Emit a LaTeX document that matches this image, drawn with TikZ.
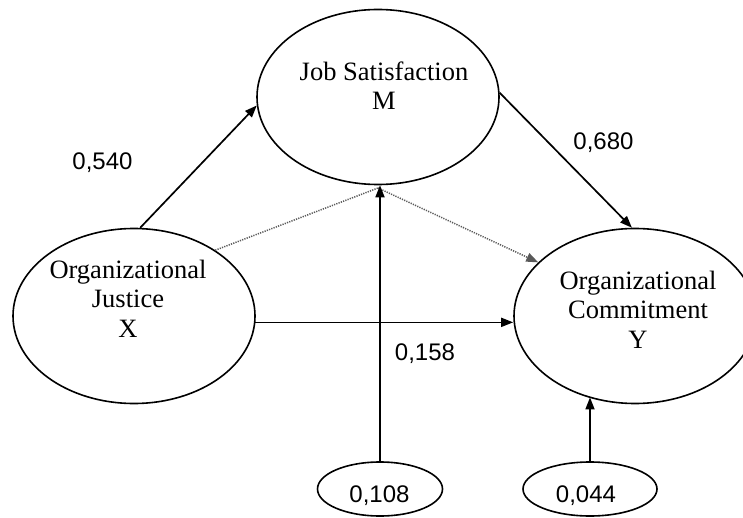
\documentclass[tikz,border=0pt]{standalone}
\usepackage{fontspec}
\setmainfont{Liberation Serif}
\newfontfamily\numfont{Liberation Sans}
\usetikzlibrary{shapes.geometric,arrows.meta}
\begin{document}
\begin{tikzpicture}[x=1pt,y=-1pt,
 big/.style={draw, ellipse, line width=1.6pt, minimum width=242pt, minimum height=175pt, inner sep=0pt},
 small/.style={draw, ellipse, line width=1.6pt, inner sep=0pt},
 lbl/.style={font=\fontsize{26.5}{29.5}\selectfont, align=center, anchor=base, inner sep=0pt},
 num/.style={font=\numfont\fontsize{24}{28}\selectfont, anchor=base, inner sep=0pt},
 tip/.style={-{Triangle[length=12pt,width=9pt]}},
 conn/.style={line width=1.7pt, tip},
 dotline/.style={line width=1.5pt, dash pattern=on 1.2pt off 1.2pt, black!65}
]
\useasboundingbox[fill=white] (0,0) rectangle (743,518);
\node[big] (M) at (378,97) {};
\node[big] (X) at (134,316) {};
\node[big] (Y) at (635,316) {};
\node[small, minimum width=125pt, minimum height=54pt] (E1) at (380,489) {};
\node[small, minimum width=134pt, minimum height=54pt] (E2) at (590,489) {};

\node[lbl] (tM) at (384,110) {Job Satisfaction\\M};
\node[lbl] (tX) at (128,337) {Organizational\\Justice\\X};
\node[lbl] (tY) at (638,348) {Organizational\\Commitment\\Y};

\node[num] (n540) at (102.5,170) {0,540};
\node[num] (n680) at (603.5,150) {0,680};
\node[num] (n158) at (425,360) {0,158};
\node[num] (n108) at (379.5,502) {0,108};
\node[num] (n044) at (586,502) {0,044};

\coordinate (J) at (378,188);
\draw[conn] (X.86) -- (M.184);
\draw[conn] (M.2) -- (Y.92);
\draw[conn] (X.-3) -- (Y.west |- X.-3);
\draw[dotline] (X.39) -- (J);
\draw[dotline, tip] (J) -- (Y.151);
\draw[conn] (E1.north) -- (E1.north |- M.south);
\draw[conn] (E2.north) -- (E2.north |- Y.240);
\end{tikzpicture}
\end{document}
